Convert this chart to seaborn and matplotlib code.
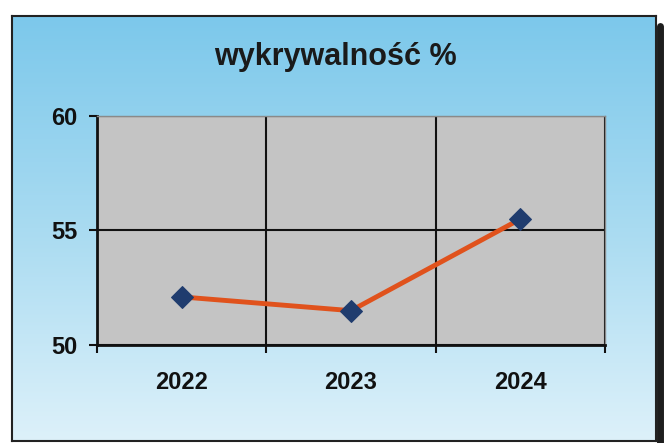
import numpy as np
import pandas as pd
import matplotlib
matplotlib.use('Agg')
import matplotlib.pyplot as plt
import seaborn as sns
from matplotlib.colors import LinearSegmentedColormap
from matplotlib.lines import Line2D

years = ['2022', '2023', '2024']
values = [52.1, 51.5, 55.5]
yticks = [50, 55, 60]
title = 'wykrywalność %'

sns.set_style('white')
plt.rcParams['font.family'] = ['Liberation Sans', 'DejaVu Sans']

W, H = 667, 443
fig = plt.figure(figsize=(W / 100, H / 100), dpi=100)
fig.patch.set_facecolor('white')


def fx(px):
    return px / W


def fy(py):
    return 1 - py / H


# gradient background box
bg = fig.add_axes([fx(12), fy(441), fx(656) - fx(12), fy(16) - fy(441)], zorder=0)
cmap = LinearSegmentedColormap.from_list('g', ['#7CC8EB', '#A9DBF1', '#DDF1FA'])
grad = np.linspace(0, 1, 256).reshape(-1, 1)
bg.imshow(grad, aspect='auto', cmap=cmap, extent=[0, 1, 0, 1], origin='upper')
bg.set_xticks([])
bg.set_yticks([])
for s in bg.spines.values():
    s.set_color('#222222')
    s.set_linewidth(1.5)
fig.add_artist(Line2D([fx(660), fx(660)], [fy(26), fy(443)], lw=5, color='#1E1E1E', zorder=1))

# main plot
ax = fig.add_axes([fx(97), fy(345), fx(605) - fx(97), fy(116) - fy(345)], zorder=2)
df = pd.DataFrame({'year': years, 'value': values})
sns.lineplot(data=df, x='year', y='value', ax=ax, color='#E0521C', lw=3.5,
             marker='D', markersize=11, markerfacecolor='#1F3C6E',
             markeredgecolor='#1F3C6E', sort=False)
ax.set_facecolor('#C4C4C4')
ax.set_xlim(-0.5, len(years) - 0.5)
ax.set_ylim(yticks[0], yticks[-1])
ax.set_xlabel('')
ax.set_ylabel('')

ax.set_xticks(range(len(years)))
ax.set_xticklabels(years, fontsize=17, fontweight='bold', color='#111111')
ax.set_xticks(np.arange(-0.5, len(years), 1.0), minor=True)
ax.tick_params(axis='x', which='major', length=0, pad=19)
ax.tick_params(axis='x', which='minor', bottom=True, length=6, width=1.5,
               color='#111111', direction='out')
ax.set_yticks(yticks)
ax.set_yticklabels([str(v) for v in yticks], fontsize=17, fontweight='bold', color='#111111')
ax.tick_params(axis='y', which='major', left=True, length=6, width=1.5,
               color='#111111', direction='out', pad=8)

ax.grid(False)
ax.grid(axis='x', which='minor', color='#111111', lw=1.5)
ax.grid(axis='y', which='major', color='#111111', lw=1.5)
ax.set_axisbelow(True)

for side in ['left', 'bottom']:
    ax.spines[side].set_color('#111111')
    ax.spines[side].set_linewidth(2)
for side in ['top', 'right']:
    ax.spines[side].set_color('#8A8A8A')
    ax.spines[side].set_linewidth(1)

fig.text(fx(335), fy(57), title, ha='center', va='center', fontsize=22,
         fontweight='bold', color='#1A1A1A')

fig.savefig('out.png', dpi=100)
